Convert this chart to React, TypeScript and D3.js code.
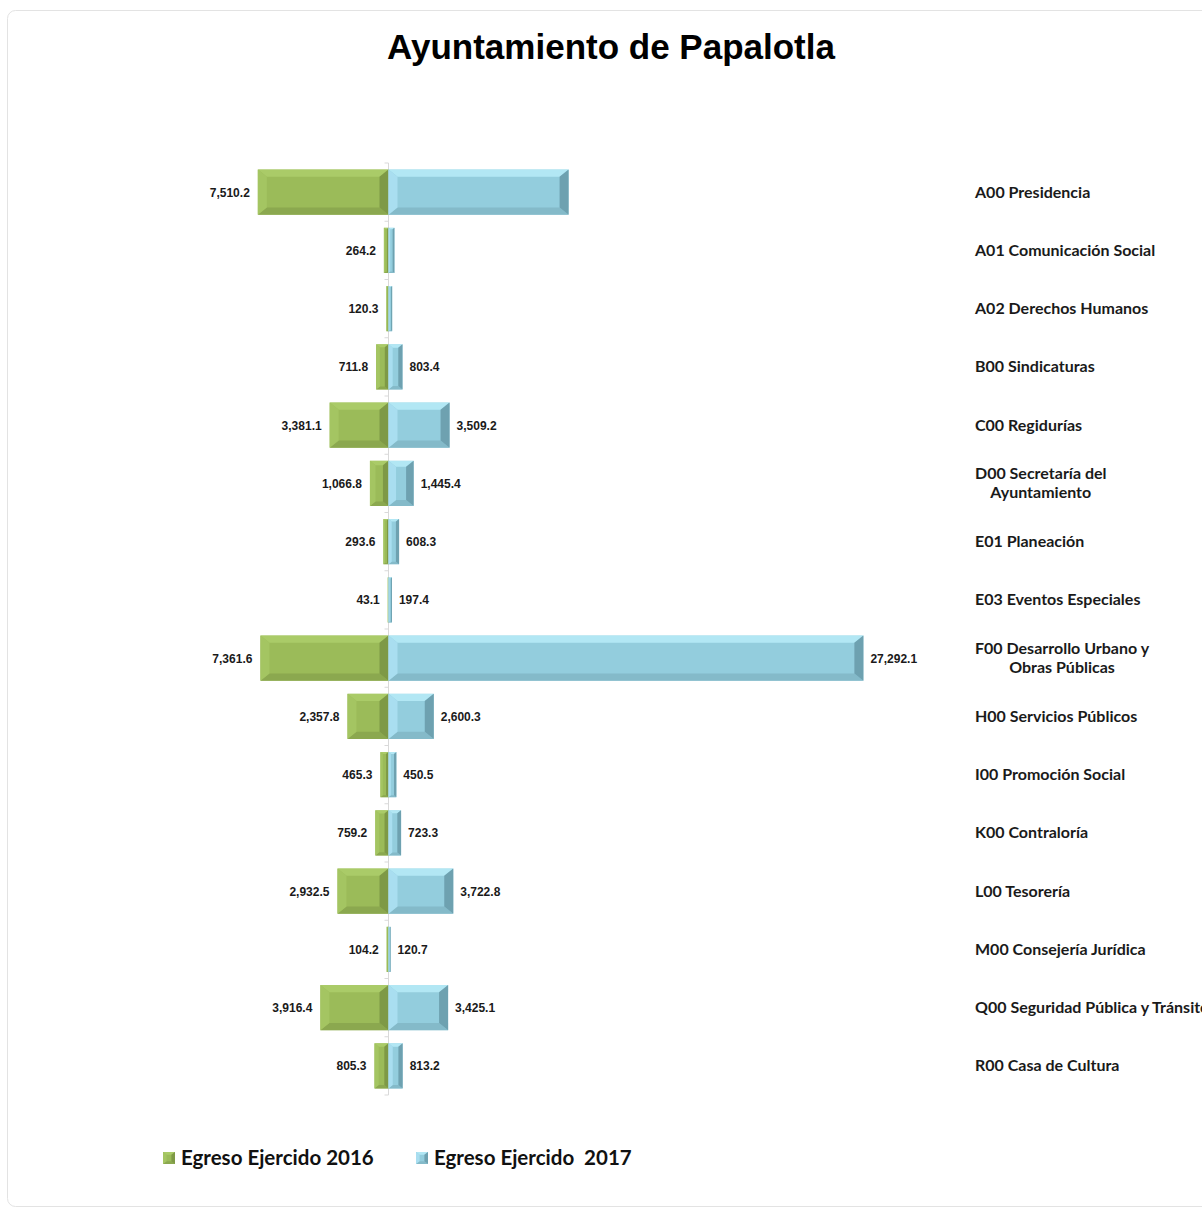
import React, { useEffect, useRef } from "react";
import * as d3 from "d3";

const title = "Ayuntamiento de Papalotla";
const categories = [
  "A00 Presidencia",
  "A01 Comunicación Social",
  "A02 Derechos Humanos",
  "B00 Sindicaturas",
  "C00 Regidurías",
  "D00 Secretaría del|Ayuntamiento",
  "E01 Planeación",
  "E03 Eventos Especiales",
  "F00 Desarrollo Urbano y|Obras Públicas",
  "H00 Servicios Públicos",
  "I00 Promoción Social",
  "K00 Contraloría",
  "L00 Tesorería",
  "M00 Consejería Jurídica",
  "Q00 Seguridad Pública y Tránsito",
  "R00 Casa de Cultura",
];
const values2016 = [7510.2, 264.2, 120.3, 711.8, 3381.1, 1066.8, 293.6, 43.1, 7361.6, 2357.8, 465.3, 759.2, 2932.5, 104.2, 3916.4, 805.3];
const values2017 = [10350, 340, 210, 803.4, 3509.2, 1445.4, 608.3, 197.4, 27292.1, 2600.3, 450.5, 723.3, 3722.8, 120.7, 3425.1, 813.2];
const showLabel2016 = [true, true, true, true, true, true, true, true, true, true, true, true, true, true, true, true];
const showLabel2017 = [false, false, false, true, true, true, true, true, true, true, true, true, true, true, true, true];
const seriesNames = ["Egreso Ejercido 2016", "Egreso Ejercido  2017"];

const W = 1202;
const H = 1213;

type Pal = { face: string; top: string; left: string; right: string; bottom: string };
const green: Pal = { face: "#9bbb59", top: "#aacb68", left: "#a4c562", right: "#7e9946", bottom: "#8ba84f" };
const blue: Pal = { face: "#93cddd", top: "#b2e7f4", left: "#a9def0", right: "#6ea1b0", bottom: "#84bac9" };

function bevelBar(g: any, x0: number, x1: number, y0: number, y1: number, p: Pal, maxB = 9) {
  const w = x1 - x0;
  if (w <= 0) return;
  const b = Math.min(maxB, w * 0.3);
  const bv = Math.min(maxB * 0.78, (y1 - y0) * 0.3, b * 0.78 + 0.001);
  const poly = (pts: number[][], fill: string) =>
    g.append("polygon").attr("points", pts.map((q) => q.join(",")).join(" ")).attr("fill", fill);
  g.append("rect").attr("x", x0).attr("y", y0).attr("width", w).attr("height", y1 - y0).attr("fill", p.face);
  poly([[x0, y0], [x1, y0], [x1 - b, y0 + bv], [x0 + b, y0 + bv]], p.top);
  poly([[x0, y1], [x1, y1], [x1 - b, y1 - bv], [x0 + b, y1 - bv]], p.bottom);
  poly([[x0, y0], [x0 + b, y0 + bv], [x0 + b, y1 - bv], [x0, y1]], p.left);
  poly([[x1, y0], [x1 - b, y0 + bv], [x1 - b, y1 - bv], [x1, y1]], p.right);
}

export default function App() {
  const ref = useRef<SVGSVGElement | null>(null);
  useEffect(() => {
    document.body.style.margin = "0";
    const svg = d3.select(ref.current);
    svg.selectAll("*").remove();

    svg.append("rect").attr("width", W).attr("height", H).attr("fill", "#ffffff");
    svg.append("rect").attr("x", 7.5).attr("y", 10.5).attr("width", 1230).attr("height", 1196)
      .attr("rx", 8).attr("fill", "#ffffff").attr("stroke", "#e3e3e3");

    svg.append("text").attr("x", 611).attr("y", 59).attr("text-anchor", "middle")
      .attr("font-family", "Liberation Sans, Arial, sans-serif").attr("font-weight", "bold")
      .attr("font-size", 35).attr("fill", "#000").text(title);

    const k = 0.0174;
    const x = d3.scaleLinear().domain([-10000, 28000]).range([388.5 - 10000 * k, 388.5 + 28000 * k]);
    const y = d3.scaleBand<string>().domain(categories).range([163, 1095]).paddingInner(0.227).paddingOuter(0.1135);
    const x0 = x(0);

    // axis
    const ax = svg.append("g");
    ax.append("line").attr("x1", x0).attr("x2", x0).attr("y1", 163).attr("y2", 1095).attr("stroke", "#d9d9d9");
    const step = y.step();
    for (let i = 0; i <= categories.length; i++) {
      const yy = 163 + i * step;
      ax.append("line").attr("x1", x0 - 4).attr("x2", x0).attr("y1", yy).attr("y2", yy).attr("stroke", "#d9d9d9");
    }

    const bars = svg.append("g");
    const fmt = d3.format(",.1f");
    const valFont = "Liberation Sans, Arial, sans-serif";
    const catFont = "Lato, 'Open Sans', sans-serif";
    const catSize = 16;
    categories.forEach((c, i) => {
      const yt = y(c)!;
      const yb = yt + y.bandwidth();
      const cy = yt + y.bandwidth() / 2;
      bevelBar(bars, x(-values2016[i]), x0, yt, yb, green);
      bevelBar(bars, x0, x(values2017[i]), yt, yb, blue);
      if (showLabel2016[i]) {
        bars.append("text").attr("x", x(-values2016[i]) - 8).attr("y", cy + 4.5).attr("text-anchor", "end")
          .attr("font-family", valFont).attr("font-weight", "bold").attr("font-size", 12).attr("fill", "#1a1a1a")
          .text(fmt(values2016[i]));
      }
      if (showLabel2017[i]) {
        bars.append("text").attr("x", x(values2017[i]) + 7).attr("y", cy + 4.5).attr("text-anchor", "start")
          .attr("font-family", valFont).attr("font-weight", "bold").attr("font-size", 12).attr("fill", "#1a1a1a")
          .text(fmt(values2017[i]));
      }
      // category label
      const lines = c.split("|");
      if (lines.length === 1) {
        bars.append("text").attr("x", 975).attr("y", cy + 5.5).attr("font-family", catFont).attr("font-weight", "bold")
          .attr("font-size", catSize).attr("fill", "#1a1a1a").text(lines[0]);
      } else {
        const t1 = bars.append("text").attr("x", 975).attr("y", cy - 4).attr("font-family", catFont).attr("font-weight", "bold")
          .attr("font-size", catSize).attr("fill", "#1a1a1a").text(lines[0]);
        const w1 = (t1.node() as SVGTextElement).getComputedTextLength();
        bars.append("text").attr("x", 975 + w1 / 2).attr("y", cy + 15).attr("text-anchor", "middle")
          .attr("font-family", catFont).attr("font-weight", "bold")
          .attr("font-size", catSize).attr("fill", "#1a1a1a").text(lines[1]);
      }
    });

    // legend
    const leg = svg.append("g");
    const legX = [163, 416];
    const pals = [green, blue];
    seriesNames.forEach((n, i) => {
      bevelBar(leg, legX[i], legX[i] + 12, 1152, 1164, pals[i], 5);
      leg.append("text").attr("x", legX[i] + 18).attr("y", 1165).attr("font-family", "Lato, 'Open Sans', sans-serif")
        .attr("font-weight", "bold").attr("font-size", 20.5).attr("fill", "#111").attr("xml:space", "preserve")
        .style("white-space", "pre").text(n);
    });
  }, []);
  return <svg ref={ref} width={W} height={H} style={{ display: "block" }} />;
}
